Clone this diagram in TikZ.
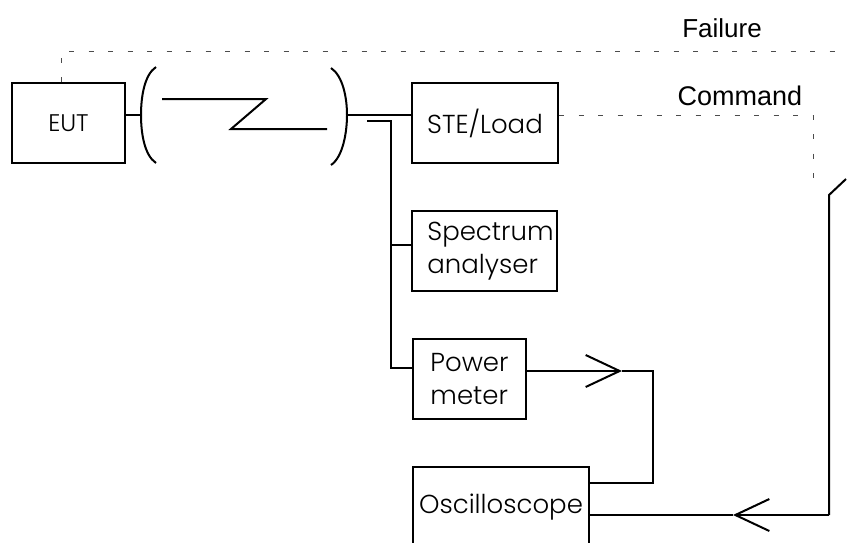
\documentclass[tikz,border=0pt]{standalone}
\usepackage        {fontspec}
\usetikzlibrary    {arrows.meta}
\setmainfont{Liberation Sans}
\newfontfamily\boxfont[UprightFont=* Light]{Poppins}

\tikzset{
  box/.style={draw,line width=2pt,rectangle,inner sep=0pt,align=left,font=\boxfont\fontsize{26}{33}\selectfont},
  wire/.style={line width=2pt},
  ctrl/.style={line width=.8pt,black!70,dash pattern=on 5pt off 14.5pt},
  caption/.style={font=\fontsize{26}{30}\selectfont},
  barb/.style={-{Straight Barb[length=34pt,width=32pt,line width=2pt]}}
}

\begin{document}
\begin{tikzpicture}
  [x=1pt,y=-1pt]
  \useasboundingbox (0,0) rectangle (849,542);
  \clip (0,0) rectangle (849,542);

  \node[box,minimum width=113pt,minimum height=80pt,font=\boxfont\fontsize{24}{33}\selectfont] (EUT) at (68.5,123) {EUT};
  \node[box,minimum width=146pt,minimum height=80pt] (STE) at (485,123) {STE/Load};
  \node[box,minimum width=145pt,minimum height=80pt] (SA) at (484.5,251) {\hspace*{12pt}Spectrum\\\hspace*{12pt}analyser};
  \node[box,minimum width=113pt,minimum height=80pt] (PM) at (469.5,379) {Power\\meter};
  \node[box,minimum width=176pt,minimum height=80pt] (OSC) at (501,507) {Oscilloscope};
  \node[caption] (failure) at (722,28) {Failure};
  \node[caption,font=\fontsize{27}{30}\selectfont] (command) at (740,96) {Command};

  \coordinate (pl) at (141,115);
  \coordinate (pr) at (347,115);
  \coordinate (stub) at (367,121);
  \coordinate (bus) at (391,121);
  \coordinate (sain) at (412,245);
  \coordinate (pmin) at (413,368);
  \coordinate (pmtip) at (622,371);
  \coordinate (oscin) at (653,483);
  \coordinate (osctip) at (733,515);
  \coordinate (sw) at (829,515);
  \coordinate (swa) at (829,195);
  \coordinate (swb) at (846,179);
  \coordinate (fail) at (61,51);
  \coordinate (failend) at (849,51);
  \coordinate (cmd) at (813,115);
  \coordinate (cmdend) at (813,182);

  % link
  \draw[wire] (156,67) .. controls (144,75) and (141,98) .. (pl) .. controls (141,132) and (144,155) .. (156,163);
  \draw[wire] (331,68) .. controls (343,76) and (347,98) .. (pr) .. controls (347,132) and (343,157) .. (331,165);
  \draw[wire] (162,99) -- (266,99) -- (231,129) -- (327,129);

  \draw[wire] (EUT.east |- pl) -- (pl);
  \draw[wire] (pr) -- (STE.west |- pr);
  \draw[wire] (stub) -- (bus) -- (bus |- pmin) -- (pmin);
  \draw[wire] (bus |- sain) -- (sain);

  \draw[wire,barb] (PM.east |- pmtip) -- (pmtip);
  \draw[wire] (pmtip) -| (oscin) -- (OSC.east |- oscin);
  \draw[wire,barb] (sw) -- (osctip);
  \draw[wire] (osctip) -- (OSC.east |- osctip);
  \draw[wire] (sw) -- (swa) -- (swb);

  \draw[ctrl] (EUT.north -| fail) -- (fail) -- (failend);
  \draw[ctrl] (STE.east |- cmd) -- (cmd) -- (cmdend);
\end{tikzpicture}
\end{document}
